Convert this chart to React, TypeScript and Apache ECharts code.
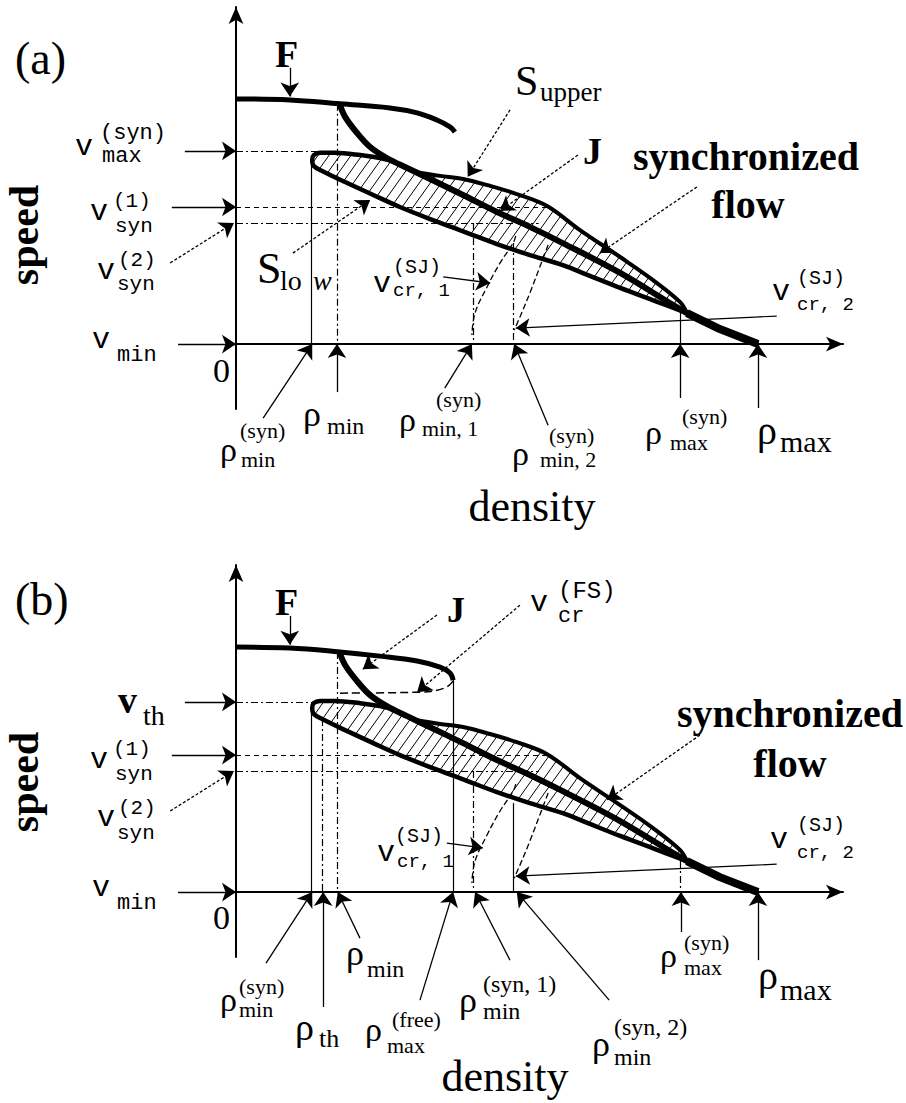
import React, { useEffect, useRef } from "react";
import * as echarts from "echarts";

// Units: density in % of rho_max (rho_max = 100); speed in % of the free-flow speed at zero density (= 100)
const RHO_AXIS_MAX = 116.3;
const V_AXIS_MIN = -26.5;
const V_AXIS_MAX_A = 137.5;
const V_AXIS_MAX_B = 133.5;

// characteristic levels
const V_MAX_SYN = 78.8;
const V_TH = 77.6;
const V_SYN_1 = 55.9;
const V_SYN_2 = 49.4;
const RHO_MIN_SYN = 14.4;
const RHO_TH = 16.5;
const RHO_MIN = 19.35;
const RHO_MAX_FREE = 41.6;
const RHO_MIN_SYN_1 = 45.4;
const RHO_MIN_SYN_2 = 53.1;
const RHO_MAX_SYN = 85.1;
const V_MERGE = 12.65;

// curves
const F_CURVE_A = [[0, 100], [10.3, 99.6], [19.9, 98.0], [29.5, 96.3], [34.7, 94.3], [38.5, 91.4], [41.0, 88.6], [41.95, 86.5]];
const F_CURVE_B = [[0, 100], [10.3, 99.6], [19.9, 98.0], [27.6, 96.3], [34.7, 94.3], [39.1, 91.8], [41.0, 89.4], [41.6, 86.5]];
const J_CURVE = [[19.9, 97.6], [20.9, 92.7], [23.2, 86.1], [25.7, 80.4], [28.9, 75.9], [32.8, 71.8], [37.2, 67.3], [43.5, 60.8], [50.0, 53.9], [56.3, 47.8], [62.6, 41.2], [73.6, 29.0], [86.4, 12.65], [92.7, 6.1], [100, 0]];
const J_TAIL = [[86.4, 12.65], [92.7, 6.1], [100, 0]];
const S_LOW_EDGE = [[30.5, 74.3], [27.6, 75.9], [23.8, 77.1], [19.0, 78.0], [16.1, 78.0], [14.9, 77.1], [14.6, 75.1], [14.9, 72.65], [16.5, 70.6], [20.9, 66.1], [26.3, 60.8], [31.4, 55.9], [37.2, 51.0], [43.9, 45.7], [50.0, 40.8], [56.3, 36.3], [62.6, 32.2], [67.8, 27.8], [73.6, 22.9], [80.3, 17.55], [86.4, 12.65]];
const S_UPPER_EDGE = [[34.3, 70.2], [39.1, 68.6], [43.5, 67.35], [48.7, 64.5], [53.8, 61.2], [59.6, 56.3], [65.9, 46.5], [73.6, 35.5], [79.9, 26.1], [85.1, 17.1], [86.4, 12.65]];
const V_CR_1_CURVE = [[53.6, 44.1], [53.1, 41.2], [50.6, 33.1], [48.1, 23.3], [45.8, 12.65], [45.2, 3.7]];
const V_CR_2_CURVE = [[59.8, 40.4], [58.2, 31.4], [56.3, 20.8], [54.4, 11.0], [53.3, 5.7]];
const FS_CLOSURE = [[41.6, 86.1], [40.0, 83.3], [35.25, 81.6], [19.9, 81.2]];

// reference lines
const REF_DASHDOT_A = [
  [[0, V_MAX_SYN], [15.7, V_MAX_SYN]],
  [[0, V_SYN_2], [58, V_SYN_2]],
  [[RHO_MIN, 98.0], [RHO_MIN, 0]],
  [[RHO_MIN_SYN_1, V_SYN_2], [RHO_MIN_SYN_1, 0]],
  [[RHO_MIN_SYN_2, 41.2], [RHO_MIN_SYN_2, 0]],
];
const REF_DASHED_A = [[[0, V_SYN_1], [60, V_SYN_1]]];
const REF_SOLID_A = [
  [[RHO_MIN_SYN, 75.1], [RHO_MIN_SYN, 0]],
  [[RHO_MAX_SYN, V_MERGE], [RHO_MAX_SYN, 0]],
  [[103.6, 11.4], [99.5, 11.0]],
];
const REF_DASHDOT_B = [
  [[0, V_TH], [15.7, V_TH]],
  [[0, V_SYN_2], [58, V_SYN_2]],
  [[RHO_TH, 70.6], [RHO_TH, 0]],
  [[RHO_MIN, 98.0], [RHO_MIN, 0]],
  [[RHO_MIN_SYN_1, V_SYN_2], [RHO_MIN_SYN_1, 0]],
  [[RHO_MAX_SYN, V_MERGE], [RHO_MAX_SYN, 0]],
];
const REF_DASHED_B = [[[0, V_SYN_1], [60, V_SYN_1]]];
const REF_SOLID_B = [
  [[RHO_MIN_SYN, 75.1], [RHO_MIN_SYN, 0]],
  [[RHO_MAX_FREE, 86.5], [RHO_MAX_FREE, 0]],
  [[RHO_MIN_SYN_2, 36.3], [RHO_MIN_SYN_2, 0]],
  [[103.6, 11.4], [99.5, 11.0]],
];

// annotation arrows [from, to]
const ARROWS_SOLID_A = [
  [[10.3, 112.7], [10.3, 101]],
  [[-9.8, V_MAX_SYN], [0, V_MAX_SYN]],
  [[-12.3, V_SYN_1], [0, V_SYN_1]],
  [[-11.1, 0], [0, 0]],
  [[39.7, 27.4], [48.7, 24.9]],
  [[99.5, 11.0], [53.6, 6.5]],
  [[5.2, -30.2], [14.6, 0]],
  [[19.35, -19.6], [19.35, 0]],
  [[40.0, -18.0], [45.2, 0]],
  [[59.8, -33.1], [53.3, 0]],
  [[85.1, -22.0], [85.1, 0]],
  [[100, -26.1], [100, 0]],
];
const ARROWS_DASHED_A = [
  [[-12.6, 33.1], [-0.4, 49.4]],
  [[52.5, 95.5], [44.4, 68.2]],
  [[65.5, 77.1], [50.6, 54.3]],
  [[88.3, 64.1], [69.7, 37.1]],
  [[10.9, 37.1], [25.7, 58.8]],
];
const ARROWS_SOLID_B = [
  [[10.3, 112.7], [10.3, 101]],
  [[-9.8, V_TH], [0, V_TH]],
  [[-12.3, V_SYN_1], [0, V_SYN_1]],
  [[-11.1, 0], [0, 0]],
  [[40.4, 20.0], [47.3, 18.0]],
  [[99.5, 11.0], [53.6, 6.5]],
  [[5.75, -29.0], [14.6, 0]],
  [[16.7, -46.9], [16.7, 0]],
  [[23.75, -18.8], [19.5, 0]],
  [[35.25, -44.1], [41.6, 0]],
  [[52.5, -27.8], [45.8, 0]],
  [[71.5, -44.1], [53.8, 0]],
  [[85.25, -16.3], [85.25, 0]],
  [[100, -27.8], [100, 0]],
];
const ARROWS_DASHED_B = [
  [[-12.6, 33.1], [-0.4, 49.4]],
  [[38.5, 113.1], [24.3, 91.0]],
  [[54.4, 117.1], [34.7, 81.6]],
  [[88.9, 64.1], [71.1, 37.55]],
];

// ---- layout / styles ----
const SERIF = '"Liberation Serif", "Times New Roman", serif';
const MONO = '"Liberation Mono", "Courier New", monospace';
const fS = (s: number) => `${s}px ${SERIF}`;
const fSB = (s: number) => `bold ${s}px ${SERIF}`;
const fSI = (s: number) => `italic ${s}px ${SERIF}`;
const fM = (s: number) => `${s}px ${MONO}`;

type Piece = [string, number, number, string, string?];
const LABELS: Piece[] = [
  // panel (a)
  ["(a)", 15, 58, fS(46)],
  ["F", 275, 54, fSB(38)],
  ["v", 75, 147, fM(30)], ["(syn)", 100, 133, fM(22)], ["max", 102, 156, fM(22)],
  ["v", 90, 212, fM(30)], ["(1)", 113, 201, fM(21)], ["syn", 115, 226, fM(21)],
  ["v", 97, 271, fM(30)], ["(2)", 118, 260, fM(21)], ["syn", 117, 284, fM(21)],
  ["v", 92, 340, fM(30)], ["min", 117, 355, fM(22)],
  ["0", 213, 370, fS(34)],
  ["S", 515, 81, fS(42)], ["upper", 540, 92, fS(27)],
  ["J", 583, 151, fSB(38)],
  ["synchronized", 746, 156, fSB(40), "center"], ["flow", 748, 204, fSB(40), "center"],
  ["S", 257, 268, fS(44)], ["lo", 280, 280, fS(28)], ["w", 313, 280, fSI(28)],
  ["v", 373, 284, fM(30)], ["(SJ)", 393, 267, fM(20)], ["cr, 1", 393, 291, fM(19)],
  ["v", 772, 292, fM(30)], ["(SJ)", 797, 278, fM(20)], ["cr, 2", 797, 305, fM(19)],
  ["ρ", 220, 449, fS(34)], ["(syn)", 240, 430, fS(22)], ["min", 241, 459, fS(22)],
  ["ρ", 303, 414, fS(36)], ["min", 327, 426, fS(24)],
  ["ρ", 399, 419, fS(34)], ["(syn)", 436, 399, fS(22)], ["min, 1", 422, 428, fS(22)],
  ["ρ", 512, 453, fS(34)], ["(syn)", 549, 435, fS(22)], ["min, 2", 540, 459, fS(22)],
  ["ρ", 645, 432, fS(34)], ["(syn)", 682, 416, fS(22)], ["max", 670, 442, fS(22)],
  ["ρ", 757, 430, fS(40)], ["max", 780, 441, fS(30)],
  ["density", 532, 506, fS(44), "center"],
  // panel (b)
  ["(b)", 15, 599, fS(46)],
  ["F", 275, 602, fSB(38)],
  ["J", 447, 610, fSB(36)],
  ["v", 530, 603, fM(30)], ["(FS)", 558, 591, fM(24)], ["cr", 558, 616, fM(22)],
  ["v", 118, 700, fSB(38)], ["th", 143, 715, fS(28)],
  ["v", 90, 760, fM(30)], ["(1)", 113, 749, fM(21)], ["syn", 115, 774, fM(21)],
  ["v", 97, 818, fM(30)], ["(2)", 118, 808, fM(21)], ["syn", 117, 833, fM(21)],
  ["v", 92, 888, fM(30)], ["min", 117, 903, fM(22)],
  ["0", 213, 917, fS(34)],
  ["synchronized", 790, 713, fSB(40), "center"], ["flow", 790, 763, fSB(40), "center"],
  ["v", 377, 853, fM(30)], ["(SJ)", 395, 836, fM(20)], ["cr, 1", 397, 862, fM(19)],
  ["v", 770, 840, fM(30)], ["(SJ)", 797, 825, fM(20)], ["cr, 2", 797, 853, fM(19)],
  ["ρ", 220, 999, fS(34)], ["(syn)", 239, 986, fS(22)], ["min", 239, 1009, fS(22)],
  ["ρ", 295, 1027, fS(38)], ["th", 319, 1038, fS(26)],
  ["ρ", 365, 1029, fS(34)], ["(free)", 392, 1019, fS(22)], ["max", 387, 1045, fS(22)],
  ["ρ", 346, 953, fS(36)], ["min", 367, 969, fS(24)],
  ["ρ", 459, 1000, fS(36)], ["(syn, 1)", 483, 984, fS(24)], ["min", 483, 1011, fS(24)],
  ["ρ", 592, 1044, fS(36)], ["(syn, 2)", 614, 1027, fS(24)], ["min", 614, 1057, fS(24)],
  ["ρ", 660, 955, fS(34)], ["(syn)", 684, 942, fS(22)], ["max", 684, 967, fS(22)],
  ["ρ", 758, 975, fS(40)], ["max", 780, 989, fS(30)],
  ["density", 505, 1076, fS(44), "center"],
];

const DASHDOT = [7, 3, 2, 3];
const BLACK = "#000";

function between(curve: number[][], lo: number, hi: number) {
  return curve.filter((p) => p[0] > lo && p[0] < hi).reverse();
}
const HATCH_REGIONS = [
  [...S_LOW_EDGE, ...between(J_CURVE, 30.5, 86.4)],
  [...S_UPPER_EDGE, ...between(J_CURVE, 34.3, 86.4)],
];

function hatchSegments(pts: number[][], spacing: number, k: number) {
  const f = (p: number[]) => p[0] + p[1] / k;
  const fv = pts.map(f);
  const lo = Math.min(...fv);
  const hi = Math.max(...fv);
  const segs: number[][][] = [];
  for (let c = Math.ceil(lo / spacing) * spacing; c < hi; c += spacing) {
    const hits: number[][] = [];
    for (let i = 0; i < pts.length; i++) {
      const j = (i + 1) % pts.length;
      const fa = fv[i] - c;
      const fb = fv[j] - c;
      if (fa < 0 !== fb < 0) {
        const t = fa / (fa - fb);
        hits.push([pts[i][0] + t * (pts[j][0] - pts[i][0]), pts[i][1] + t * (pts[j][1] - pts[i][1])]);
      }
    }
    hits.sort((a, b) => a[1] - b[1]);
    for (let m = 0; m + 1 < hits.length; m += 2) segs.push([hits[m], hits[m + 1]]);
  }
  return segs;
}

function lineSeries(p: number, data: number[][], width: number, type: any = "solid", smooth: number = 0, z = 4) {
  return {
    type: "line",
    xAxisIndex: p,
    yAxisIndex: p,
    data,
    symbol: "none",
    showSymbol: false,
    smooth,
    clip: false,
    silent: true,
    z,
    lineStyle: { color: BLACK, width, type },
  };
}

function segSeries(p: number, segs: number[][][], type: any, width = 1.2) {
  return {
    type: "lines",
    coordinateSystem: "cartesian2d",
    xAxisIndex: p,
    yAxisIndex: p,
    data: segs.map((coords) => ({ coords })),
    symbol: "none",
    clip: false,
    silent: true,
    z: 3,
    lineStyle: { color: BLACK, width, type, opacity: 1 },
  };
}

function arrowSeries(p: number, segs: number[][][], dashed: boolean) {
  return {
    type: "lines",
    coordinateSystem: "cartesian2d",
    xAxisIndex: p,
    yAxisIndex: p,
    data: segs.map((coords) => ({ coords })),
    symbol: ["none", "arrow"],
    symbolSize: [9, 14],
    clip: false,
    silent: true,
    z: 5,
    lineStyle: { color: BLACK, width: 1.3, type: dashed ? [3, 2] : "solid", opacity: 1 },
    itemStyle: { color: BLACK },
  };
}

function hatchSeries(p: number) {
  return {
    type: "custom",
    coordinateSystem: "cartesian2d",
    xAxisIndex: p,
    yAxisIndex: p,
    data: HATCH_REGIONS.map((_, i) => [i, 0]),
    clip: false,
    silent: true,
    z: 2,
    renderItem: (params: any, api: any) => {
      const poly = HATCH_REGIONS[params.dataIndex].map((q) => api.coord(q));
      const segs = hatchSegments(poly, 11, 1.4);
      return {
        type: "group",
        children: segs.map(([a, b]) => ({
          type: "line",
          shape: { x1: a[0], y1: a[1], x2: b[0], y2: b[1] },
          style: { stroke: BLACK, lineWidth: 1 },
        })),
      };
    },
  };
}

function xAx(p: number) {
  return {
    type: "value",
    gridIndex: p,
    min: 0,
    max: RHO_AXIS_MAX,
    axisLine: { show: true, onZero: true, symbol: ["none", "arrow"], symbolSize: [11, 17], lineStyle: { color: BLACK, width: 2 } },
    axisTick: { show: false },
    axisLabel: { show: false },
    splitLine: { show: false },
  };
}
function yAx(p: number, max: number) {
  return {
    type: "value",
    gridIndex: p,
    min: V_AXIS_MIN,
    max,
    axisLine: { show: true, onZero: true, symbol: ["none", "arrow"], symbolSize: [11, 17], lineStyle: { color: BLACK, width: 2 } },
    axisTick: { show: false },
    axisLabel: { show: false },
    splitLine: { show: false },
  };
}

function panelSeries(p: number, fCurve: number[][], dd: number[][][], ds: number[][][], so: number[][][], aS: number[][][], aD: number[][][]) {
  const s: any[] = [
    hatchSeries(p),
    segSeries(p, dd, DASHDOT),
    segSeries(p, ds, [5, 4]),
    segSeries(p, so, "solid"),
    lineSeries(p, V_CR_1_CURVE, 1.3, [6, 3], 0.4, 3),
    lineSeries(p, V_CR_2_CURVE, 1.3, [6, 3], 0.4, 3),
    lineSeries(p, fCurve, 5, "solid", 0.4),
    lineSeries(p, S_LOW_EDGE, 4.5, "solid", 0.35),
    lineSeries(p, S_UPPER_EDGE, 4, "solid", 0.35),
    lineSeries(p, J_CURVE, 6, "solid", 0.35),
    lineSeries(p, J_TAIL, 8, "solid", 0),
    arrowSeries(p, aS, false),
    arrowSeries(p, aD, true),
  ];
  return s;
}

export default function App() {
  const ref = useRef<HTMLDivElement>(null);
  useEffect(() => {
    if (!ref.current) return;
    const chart = echarts.init(ref.current, null, { renderer: "svg" });
    const texts: any[] = LABELS.map(([t, x, y, font, align]) => ({
      type: "text",
      x,
      y,
      silent: true,
      z: 10,
      style: {
        text: t,
        font,
        fill: BLACK,
        align: align || "left",
        verticalAlign: "middle",
        textAlign: align || "left",
        textVerticalAlign: "middle",
      },
    }));
    [235, 782].forEach((cy) =>
      texts.push({
        type: "text",
        x: 24,
        y: cy,
        rotation: Math.PI / 2,
        silent: true,
        z: 10,
        style: {
          text: "speed",
          font: fSB(42),
          fill: BLACK,
          align: "center",
          verticalAlign: "middle",
          textAlign: "center",
          textVerticalAlign: "middle",
        },
      })
    );
    const series = [
      ...panelSeries(0, F_CURVE_A, REF_DASHDOT_A, REF_DASHED_A, REF_SOLID_A, ARROWS_SOLID_A, ARROWS_DASHED_A),
      ...panelSeries(1, F_CURVE_B, REF_DASHDOT_B, REF_DASHED_B, REF_SOLID_B, ARROWS_SOLID_B, ARROWS_DASHED_B),
      lineSeries(1, FS_CLOSURE, 1.5, [8, 4], 0.4, 3),
    ];
    chart.setOption({
      animation: false,
      backgroundColor: "#fff",
      grid: [
        { left: 236, top: 7, width: 607, height: 402 },
        { left: 236, top: 565, width: 607, height: 392 },
      ],
      xAxis: [xAx(0), xAx(1)],
      yAxis: [yAx(0, V_AXIS_MAX_A), yAx(1, V_AXIS_MAX_B)],
      series,
      graphic: { elements: texts },
    });
    return () => chart.dispose();
  }, []);
  return <div ref={ref} style={{ position: "absolute", left: 0, top: 0, width: 906, height: 1103, background: "#fff" }} />;
}
